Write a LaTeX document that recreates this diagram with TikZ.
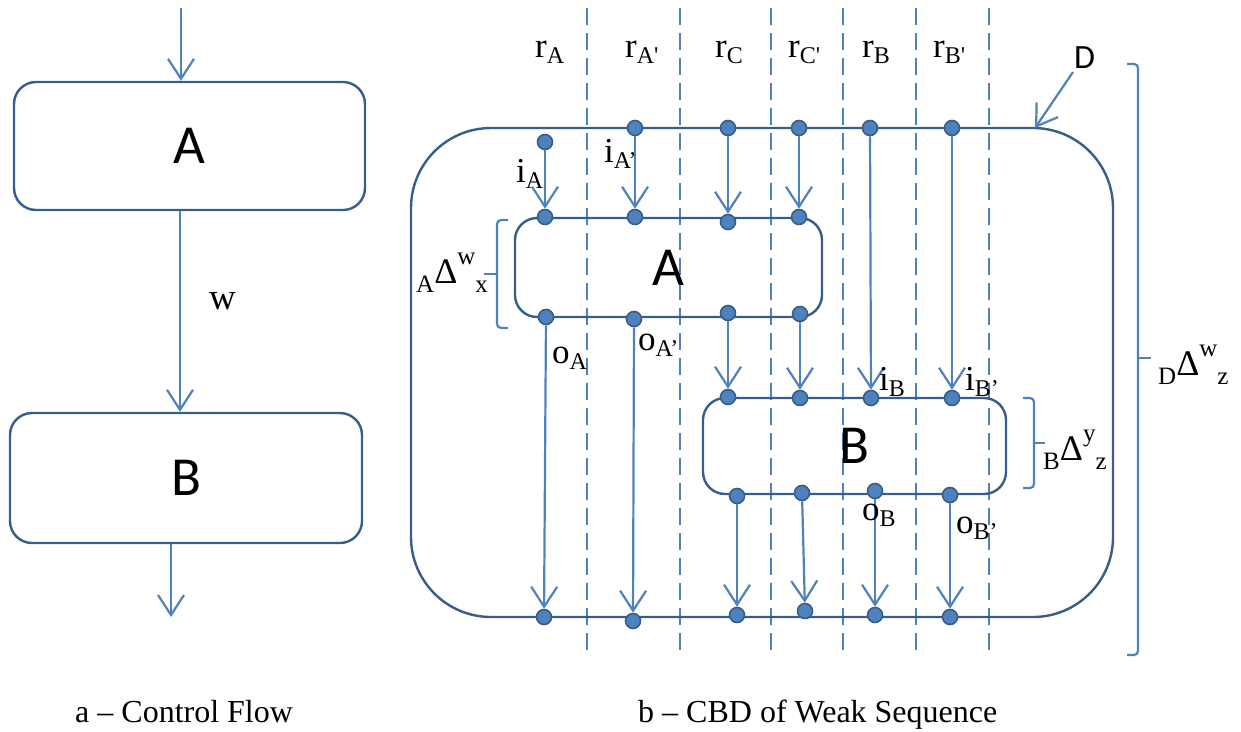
\documentclass[tikz,border=0pt]{standalone}
\usepackage{fontspec}
\setmainfont{Liberation Serif}[Ligatures=TeXOff]
\newfontfamily\boxfont{Carlito}
\usetikzlibrary{arrows.meta}
\definecolor{flowblue}{HTML}{4F81BD}
\definecolor{edgeblue}{HTML}{385D8A}
% letter with a lowered index
\newcommand\sbx[2]{#1\raisebox{-6pt}{\fontsize{24}{24}\selectfont #2}}
% left index, Delta, upper index, lower index
\newcommand\dlt[3]{\raisebox{-9pt}{\fontsize{25}{25}\selectfont #1}{\fontsize{36}{36}\selectfont Δ}\raisebox{19pt}{\fontsize{25}{25}\selectfont #2}\raisebox{-9pt}{\fontsize{25}{25}\selectfont #3}}
\begin{document}
\begin{tikzpicture}[x=1pt, y=-1pt,
  flow/.style={draw=flowblue, line width=2.2pt, -{Straight Barb[length=20pt,width=26pt]}},
  box/.style={draw=edgeblue, line width=2.4pt, rounded corners=22pt, inner sep=0pt,
    font=\boxfont\fontsize{55}{55}\selectfont},
  port/.style={circle, draw=edgeblue, fill=flowblue, line width=1.6pt, minimum size=15pt, inner sep=0pt},
  lane/.style={draw=flowblue, line width=2.5pt, dash pattern=on 17pt off 8pt},
  brk/.style={draw=flowblue, line width=2.2pt, rounded corners=4pt},
  lbl/.style={inner sep=0pt, anchor=base west, font=\fontsize{35}{35}\selectfont}]
\useasboundingbox (0,0) rectangle (1241,731);

% ---------- a: control flow ----------
\node[box, minimum width=351pt, minimum height=128pt] (LA) at (189.5,146) {A};
\node[box, minimum width=352pt, minimum height=130pt] (LB) at (186,478) {B};
\coordinate (inA) at (181,8);
\coordinate (outB) at (171,617);
\draw[flow] (inA) -- (inA |- LA.north);
\draw[flow] ([xshift=-9.5pt]LA.south) -- ([xshift=-9.5pt]LA.south |- LB.north);
\draw[flow] (outB |- LB.south) -- (outB);
\node[lbl, font=\fontsize{37}{37}\selectfont] (wlab) at (209,309) {w};
\node[lbl, font=\fontsize{32}{32}\selectfont] (capa) at (75,722) {a – Control Flow};

% ---------- b: CBD of weak sequence ----------
% resource lanes
\foreach \x in {587,680,771,843,916,989}
  \draw[lane] (\x,8) -- (\x,652);
\node[lbl] (rA)  at (535,57) {\sbx{r}{A}};
\node[lbl] (rA2) at (625,57) {\sbx{r}{A'}};
\node[lbl] (rC)  at (715,57) {\sbx{r}{C}};
\node[lbl] (rC2) at (788,57) {\sbx{r}{C'}};
\node[lbl] (rB)  at (862,57) {\sbx{r}{B}};
\node[lbl] (rB2) at (933,57) {\sbx{r}{B'}};

% components
\node[box, rounded corners=80pt, minimum width=702pt, minimum height=489pt] (D) at (762,372.5) {};
\node[box, minimum width=307pt, minimum height=99pt] (RA) at (668.5,267.5) {A};
\node[box, minimum width=303pt, minimum height=96pt] (RB) at (854.5,446) {B};

% braces
\draw[brk] (508,220) -- (497,220) -- (497,328) -- (508,328);
\draw[flowblue, line width=2.2pt] (497,274) -- (484,274);
\draw[brk] (1023,398) -- (1034,398) -- (1034,488) -- (1023,488);
\draw[flowblue, line width=2.2pt] (1034,443) -- (1045,443);
\draw[brk] (1127,64) -- (1138,64) -- (1138,655) -- (1127,655);
\draw[flowblue, line width=2.2pt] (1138,358) -- (1151,358);
\node[lbl] (dA) at (416,283) {\dlt{A}{w}{x}};
\node[lbl] (dB) at (1043,460) {\dlt{B}{y}{z}};
\node[lbl] (dD) at (1158,375) {\dlt{D}{w}{z}};

% D pointer
\node[lbl, font=\boxfont\fontsize{34}{34}\selectfont] (Dlab) at (1074,68) {D};
\coordinate (Dfrom) at (1073,72);
\coordinate (Dtip) at (1035,128);
\draw[flow] (Dfrom) -- (Dtip);

% ports
\node[port] (tA)  at (545,142) {};
\node[port] (tA2) at (635,128) {};
\node[port] (tC)  at (728,128) {};
\node[port] (tC2) at (799,128) {};
\node[port] (tB)  at (870,128) {};
\node[port] (tB2) at (952,128) {};
\node[port] (aiA)  at (545,217) {};
\node[port] (aiA2) at (635,217) {};
\node[port] (aiC)  at (728,222) {};
\node[port] (aiC2) at (799,217) {};
\node[port] (aoA)  at (546,317) {};
\node[port] (aoA2) at (634,319) {};
\node[port] (aoC)  at (728,313) {};
\node[port] (aoC2) at (800,314) {};
\node[port] (biC)  at (728,397) {};
\node[port] (biC2) at (800,398) {};
\node[port] (biB)  at (871,398) {};
\node[port] (biB2) at (952,398) {};
\node[port] (boC)  at (737,496) {};
\node[port] (boC2) at (802,493) {};
\node[port] (boB)  at (875,491) {};
\node[port] (boB2) at (950,495) {};
\node[port] (dA1) at (544,617) {};
\node[port] (dA2) at (633,621) {};
\node[port] (dC1) at (737,615) {};
\node[port] (dC2) at (805,611) {};
\node[port] (dB1) at (875,615) {};
\node[port] (dB2) at (950,617) {};

% flows
\draw[flow] (tA) -- (aiA);
\draw[flow] (tA2) -- (aiA2);
\draw[flow] (tC) -- (aiC);
\draw[flow] (tC2) -- (aiC2);
\draw[flow] (tB) -- (biB);
\draw[flow] (tB2) -- (biB2);
\draw[flow] (aoA) -- (dA1);
\draw[flow] (aoA2) -- (dA2);
\draw[flow] (aoC) -- (biC);
\draw[flow] (aoC2) -- (biC2);
\draw[flow] (boC) -- (dC1);
\draw[flow] (boC2) -- (dC2);
\draw[flow] (boB) -- (dB1);
\draw[flow] (boB2) -- (dB2);

% port labels
\node[lbl] (liA)  at (516,182) {\sbx{i}{A}};
\node[lbl] (liA2) at (604,162) {\sbx{i}{A’}};
\node[lbl] (loA)  at (552,363) {\sbx{o}{A}};
\node[lbl] (loA2) at (638,350) {\sbx{o}{A’}};
\node[lbl] (liB)  at (879,390) {\sbx{i}{B}};
\node[lbl] (liB2) at (965,390) {\sbx{i}{B’}};
\node[lbl] (loB)  at (862,520) {\sbx{o}{B}};
\node[lbl] (loB2) at (956,533) {\sbx{o}{B’}};

\node[lbl, font=\fontsize{32}{32}\selectfont] (capb) at (638,722) {b – CBD of Weak Sequence};
\end{tikzpicture}
\end{document}
